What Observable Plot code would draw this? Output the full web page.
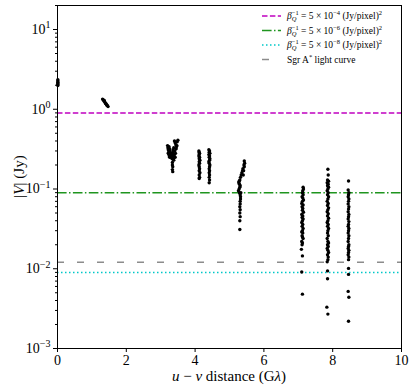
<!DOCTYPE html>
<html>
<head>
<meta charset="utf-8">
<script src="https://cdn.jsdelivr.net/npm/d3@7"></script>
<script src="https://cdn.jsdelivr.net/npm/@observablehq/plot@0.6"></script>
<style>
  html, body { margin: 0; padding: 0; background: #fff; }
  #chart { width: 415px; height: 392px; }
</style>
</head>
<body>
<div id="chart"></div>
<script>
// ---- tick values ----
const xTicks = [0, 2, 4, 6, 8, 10];
const yTicks = [1e-3, 1e-2, 1e-1, 1, 10];
const yMinorTicks = [2e-3,3e-3,4e-3,5e-3,6e-3,7e-3,8e-3,9e-3,
                     2e-2,3e-2,4e-2,5e-2,6e-2,7e-2,8e-2,9e-2,
                     0.2,0.3,0.4,0.5,0.6,0.7,0.8,0.9,
                     2,3,4,5,6,7,8,9,20];

// ---- reference levels ----
const betaLevels = [0.9, 0.09, 0.009];          // beta_Q^-1 = 5e-4, 5e-6, 5e-8
const betaExps = ["−4", "−6", "−8"];
const betaColors = ["#c000c0", "#1f951f", "#00c8c8"];
const betaDash = ["5.5,2.4", "9.6,2.4,1.5,2.4", "1.5,2.5"];
const sgrLevel = [0.0121];                      // Sgr A* light curve
const sgrColor = "#8c8c8c";
const sgrDash = "7,13";

// ---- visibility amplitudes, per baseline cluster (u-v distance in G-lambda, |V| in Jy) ----
const uvA = [0.01,0.01,0.01,0.01,0.01,0.01];
const visA = [2.35,2.26,2.18,2.10,2.04,1.98];

const uvB = [1.31,1.33,1.35,1.36,1.37,1.39,1.40,1.41,1.43,1.44,1.45,1.47];
const visB = [1.34,1.31,1.27,1.29,1.24,1.20,1.18,1.17,1.14,1.12,1.11,1.08];

const uvC = [3.20,3.21,3.22,3.23,3.24,3.25,3.22,3.26,3.27,3.28,3.24,3.26,3.29,3.30,
             3.40,3.42,3.44,3.46,3.48,3.50,3.38,3.36,3.35,3.37,3.39,3.41,3.43,3.45,3.47,3.34,3.36,3.38,3.40,3.42,3.32,3.33,
             3.34,3.34,3.35,3.34,3.35];
const visC = [0.35,0.33,0.31,0.29,0.27,0.26,0.28,0.32,0.30,0.28,0.34,0.25,0.27,0.25,
              0.40,0.38,0.36,0.34,0.39,0.41,0.33,0.31,0.29,0.27,0.25,0.30,0.28,0.32,0.35,0.26,0.24,0.23,0.27,0.25,0.28,0.24,
              0.215,0.20,0.19,0.175,0.165];

const uvD1 = [4.11,4.12,4.13,4.12,4.11,4.13,4.12,4.14,4.12,4.13,4.11,4.12,4.13,4.12,4.14,4.12,4.13,4.12];
const visD1 = [0.30,0.29,0.28,0.27,0.26,0.25,0.24,0.23,0.22,0.21,0.20,0.19,0.18,0.17,0.16,0.15,0.14,0.135];

const uvD2 = [4.40,4.42,4.41,4.43,4.40,4.42,4.41,4.43,4.42,4.40,4.41,4.43,4.42,4.41,4.42,4.41,4.42,4.41,4.42,4.41];
const visD2 = [0.31,0.30,0.29,0.28,0.27,0.26,0.25,0.24,0.23,0.22,0.21,0.20,0.19,0.18,0.17,0.16,0.15,0.14,0.13,0.12];

const uvE = [5.43,5.44,5.42,5.43,5.41,5.39,5.40,5.38,5.36,5.34,5.32,5.30,5.28,5.27,5.29,5.31,5.30,5.28,5.26,5.29,
             5.31,5.33,5.32,5.32,5.31,5.31,5.30,5.31,5.30,5.31,5.30,5.30];
const visE = [0.225,0.21,0.20,0.19,0.17,0.18,0.15,0.17,0.16,0.15,0.14,0.13,0.125,0.12,0.115,0.11,0.105,0.10,0.095,0.09,
              0.085,0.09,0.08,0.075,0.07,0.065,0.06,0.055,0.05,0.045,0.04,0.031];

const uvF = [7.14,7.15,7.13,7.12,7.14,7.11,7.13,7.15,7.12,7.10,7.14,7.11,7.13,7.12,7.15,7.10,7.13,7.11,7.14,7.12,
             7.10,7.13,7.11,7.14,7.12,7.10,7.13,7.11,7.12,7.14,7.10,7.12,7.11,7.09,7.12,7.10,7.12];
const visF = [0.105,0.10,0.095,0.09,0.085,0.08,0.077,0.073,0.07,0.066,0.063,0.06,0.057,0.054,0.051,0.048,0.046,0.044,0.042,0.04,
              0.038,0.036,0.034,0.032,0.03,0.029,0.028,0.026,0.025,0.024,0.022,0.021,0.02,0.0175,0.0145,0.0091,0.0048];

const uvG = [7.86,7.87,7.85,7.88,7.84,7.87,7.85,7.88,7.86,7.84,7.87,7.85,7.88,7.86,7.84,7.87,7.85,7.88,7.86,7.84,
             7.87,7.85,7.88,7.86,7.84,7.87,7.85,7.88,7.86,7.85,7.87,7.84,7.86,7.88,7.85,7.87,7.84,7.86,7.88,7.85,
             7.87,7.86,7.84,7.85,7.85,7.83,7.86];
const visG = [0.177,0.15,0.13,0.125,0.12,0.115,0.11,0.105,0.10,0.095,0.09,0.085,0.08,0.075,0.07,0.066,0.062,0.058,0.055,0.052,
              0.049,0.046,0.043,0.04,0.038,0.036,0.034,0.032,0.03,0.028,0.026,0.024,0.022,0.021,0.02,0.019,0.018,0.017,0.016,0.015,
              0.014,0.013,0.0122,0.0094,0.0075,0.0033,0.0027];

const uvH = [8.46,8.45,8.47,8.46,8.45,8.47,8.46,8.45,8.47,8.46,8.45,8.47,8.46,8.45,8.47,8.46,8.45,8.47,8.46,8.45,
             8.47,8.46,8.45,8.47,8.46,8.45,8.47,8.46,8.45,8.47,8.46,8.46,8.46,8.45,8.47,8.46];
const visH = [0.126,0.097,0.09,0.085,0.08,0.075,0.07,0.065,0.06,0.056,0.052,0.048,0.045,0.042,0.039,0.036,0.034,0.032,0.03,0.028,
              0.026,0.024,0.022,0.02,0.019,0.018,0.017,0.016,0.015,0.014,0.013,0.0101,0.0085,0.0052,0.0044,0.0022];

// ---- build table ----
const clusters = [[uvA,visA],[uvB,visB],[uvC,visC],[uvD1,visD1],[uvD2,visD2],[uvE,visE],[uvF,visF],[uvG,visG],[uvH,visH]];
const points = clusters.flatMap(([u, v]) => u.map((x, i) => ({uv: x, vis: v[i]})));

const FONT = "'Liberation Serif', 'DejaVu Serif', serif";

const svg = Plot.plot({
  width: 415,
  height: 392,
  marginLeft: 57,
  marginRight: 14,
  marginTop: 5,
  marginBottom: 44,
  style: {fontFamily: FONT, fontSize: "14px", color: "black", background: "white", overflow: "visible"},
  x: {domain: [0, 10], label: null},
  y: {type: "log", domain: [1e-3, 20], label: null},
  marks: [
    ...betaLevels.map((lv, i) => Plot.ruleY([lv], {stroke: betaColors[i], strokeWidth: 1.5, strokeDasharray: betaDash[i]})),
    Plot.ruleY(sgrLevel, {stroke: sgrColor, strokeWidth: 1.5, strokeDasharray: sgrDash}),
    Plot.dot(points, {x: "uv", y: "vis", r: 1.7, fill: "black", stroke: "none"}),
    Plot.axisX({ticks: xTicks, tickSize: 4, tickPadding: 3, tickFormat: d => String(d), label: null, fontSize: 14}),
    Plot.axisY({ticks: yTicks, tickSize: 4, tickPadding: 3, tickFormat: d => "10^" + Math.round(Math.log10(d)), label: null, fontSize: 14}),
    Plot.axisY({ticks: yMinorTicks, tickSize: 2, tickFormat: () => "", label: null}),
    Plot.frame({stroke: "black", strokeWidth: 1})
  ]
});

const root = d3.select(svg);

// superscript exponents for y tick labels
root.selectAll('g[aria-label="y-axis tick label"] text').each(function() {
  const t = this.textContent;
  if (!t.startsWith("10^")) return;
  const e = t.slice(3).replace("-", "−");
  const sel = d3.select(this);
  sel.text("10");
  sel.append("tspan").attr("dy", "-0.55em").attr("font-size", "10px").text(e);
});

// axis titles
const xl = root.append("text")
  .attr("x", (57 + 401) / 2).attr("y", 381)
  .attr("text-anchor", "middle").attr("font-family", FONT).attr("font-size", 15).attr("fill", "black");
xl.append("tspan").attr("font-style", "italic").text("u");
xl.append("tspan").text(" − ");
xl.append("tspan").attr("font-style", "italic").text("v");
xl.append("tspan").text(" distance (G");
xl.append("tspan").attr("font-style", "italic").text("λ");
xl.append("tspan").text(")");

const yl = root.append("text")
  .attr("transform", `translate(24,${(5 + 348) / 2}) rotate(-90)`)
  .attr("text-anchor", "middle").attr("font-family", FONT).attr("font-size", 15).attr("fill", "black");
yl.append("tspan").text("|");
yl.append("tspan").attr("font-style", "italic").text("V");
yl.append("tspan").text("| (Jy)");

// legend
const leg = root.append("g").attr("font-family", FONT).attr("font-size", 9.5).attr("fill", "black")
  .attr("text-anchor", "start");
const rowY = [16, 30.5, 45, 59.5];
const sx0 = 262, sx1 = 281, tx = 287;
betaLevels.forEach((lv, i) => {
  leg.append("line").attr("x1", sx0).attr("x2", sx1).attr("y1", rowY[i]).attr("y2", rowY[i])
    .attr("stroke", betaColors[i]).attr("stroke-width", 1.5).attr("stroke-dasharray", betaDash[i]);
  const t = leg.append("text").attr("x", tx).attr("y", rowY[i] + 3).attr("text-anchor", "start");
  t.append("tspan").attr("font-style", "italic").text("β");
  t.append("tspan").attr("font-style", "italic").attr("font-size", 6.5).attr("dy", 2).text("Q");
  t.append("tspan").attr("font-size", 6.5).attr("dx", -4.7).attr("dy", -6).text("−1");
  t.append("tspan").attr("dy", 4).text(" = 5 × 10");
  t.append("tspan").attr("font-size", 6.5).attr("dy", -4).text(betaExps[i]);
  t.append("tspan").attr("dy", 4).text(" (Jy/pixel)");
  t.append("tspan").attr("font-size", 6.5).attr("dy", -4).text("2");
});
leg.append("line").attr("x1", sx0).attr("x2", sx1).attr("y1", rowY[3]).attr("y2", rowY[3])
  .attr("stroke", sgrColor).attr("stroke-width", 1.5).attr("stroke-dasharray", sgrDash);
const st = leg.append("text").attr("x", tx).attr("y", rowY[3] + 3).attr("text-anchor", "start");
st.append("tspan").text("Sgr A");
st.append("tspan").attr("font-size", 6.5).attr("dy", -4).text("*");
st.append("tspan").attr("dy", 4).text(" light curve");

document.getElementById("chart").appendChild(svg);
</script>
</body>
</html>
